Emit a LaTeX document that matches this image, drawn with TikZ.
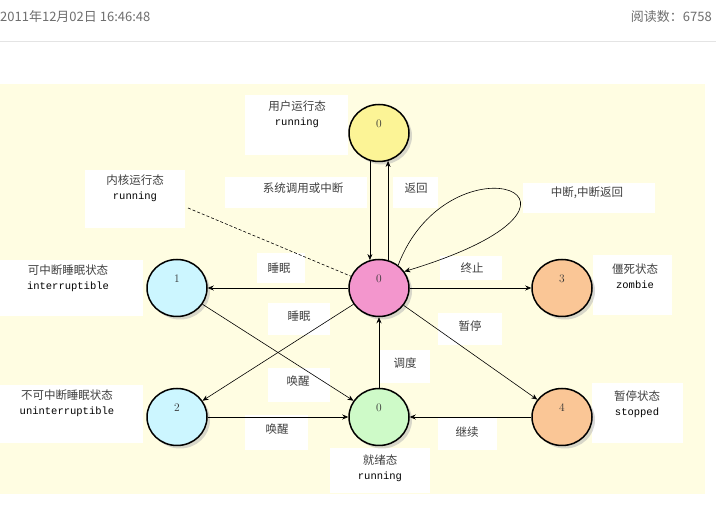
\documentclass[tikz,border=0pt]{standalone}
\usepackage{fontspec}
\usepackage{tikz}
\usetikzlibrary{arrows.meta, calc, shapes.geometric, shadows, positioning}
\newfontfamily\cjk{Noto Sans CJK SC}
\newfontfamily\mono{Liberation Mono}
\definecolor{bgyellow}{RGB}{255,253,226}
\definecolor{headgray}{RGB}{110,110,110}
\definecolor{rulegray}{RGB}{228,228,228}
\definecolor{stuser}{RGB}{252,244,150}
\definecolor{stkern}{RGB}{243,150,205}
\definecolor{stsleep}{RGB}{204,246,255}
\definecolor{stready}{RGB}{206,250,200}
\definecolor{stdead}{RGB}{250,198,150}

\begin{document}
\begin{tikzpicture}[x=1pt, y=-1pt,
    every node/.style={inner sep=0pt},
    state/.style={ellipse, draw, line width=1.5pt, minimum width=60pt, minimum height=57pt,
      drop shadow={shadow xshift=3pt, shadow yshift=-3pt, fill=black!30}},
    num/.style={font=\fontsize{11.5}{13}\selectfont, text=black!80, yshift=9pt},
    tag/.style={font=\cjk\fontsize{11.5}{15}\selectfont, text=black!75, align=center},
    head/.style={font=\cjk\fontsize{13}{15}\selectfont, text=headgray},
    edge/.style={-{Stealth[length=6pt,width=5pt]}, line width=0.6pt}]
    \useasboundingbox (0,0) rectangle (721,518);
    \fill[white] (0,0) rectangle (721,518);

    \node[head, anchor=west] (date) at (0,17) {2011年12月02日 16:46:48};
    \node[head, anchor=east] (reads) at (712,17) {阅读数：6758};
    \draw[rulegray, line width=1pt] (0,42) -- (716,42);

    \fill[bgyellow] (0,84) rectangle (705,494);

    \fill[white] (245,95) rectangle (348,155);
    \fill[white] (225,177) rectangle (367,208);
    \fill[white] (393,177) rectangle (438,208);
    \fill[white] (85,170) rectangle (185,228);
    \fill[white] (523,183) rectangle (655,213);
    \fill[white] (440,256) rectangle (502,280);
    \fill[white] (593,255) rectangle (672,315);
    \fill[white] (592,383) rectangle (683,443);
    \fill[white] (0,260) rectangle (143,316);
    \fill[white] (0,385) rectangle (143,443);
    \fill[white] (257,253) rectangle (305,283);
    \fill[white] (268,303) rectangle (330,335);
    \fill[white] (438,313) rectangle (502,345);
    \fill[white] (380,350) rectangle (430,383);
    \fill[white] (268,368) rectangle (330,402);
    \fill[white] (245,415) rectangle (308,450);
    \fill[white] (438,417) rectangle (497,450);
    \fill[white] (330,448) rectangle (430,493);

    \node[tag] (usertxt) at (297,114) {用户运行态\\{\mono\fontsize{10.5}{15}\selectfont\color{black} running}};
    \node[tag] (kerntxt) at (135,188) {内核运行态\\{\mono\fontsize{10.5}{15}\selectfont\color{black} running}};
    \node[tag] (inttxt) at (68,278) {可中断睡眠状态\\{\mono\fontsize{10.5}{15}\selectfont\color{black} interruptible}};
    \node[tag] (uninttxt) at (67,403) {不可中断睡眠状态\\{\mono\fontsize{10.5}{15}\selectfont\color{black} uninterruptible}};
    \node[tag] (zombtxt) at (635,276) {僵死状态\\{\mono\fontsize{10.5}{15}\selectfont\color{black} zombie}};
    \node[tag] (stoptxt) at (637,404) {暂停状态\\{\mono\fontsize{10.5}{15}\selectfont\color{black} stopped}};
    \node[tag] (readytxt) at (380,468) {就绪态\\{\mono\fontsize{10.5}{15}\selectfont\color{black} running}};

    \node[tag] (calltxt) at (303,188) {系统调用或中断};
    \node[tag] (rettxt) at (416,188) {返回};
    \node[tag] (irqtxt) at (587,193) {中断,中断返回};
    \node[tag] (exittxt) at (472,268) {终止};
    \node[tag] (sleeptxta) at (279,268) {睡眠};
    \node[tag] (sleeptxtb) at (299,316) {睡眠};
    \node[tag] (pausetxt) at (470,326) {暂停};
    \node[tag] (schedtxt) at (405,363) {调度};
    \node[tag] (waketxta) at (298,381) {唤醒};
    \node[tag] (waketxtb) at (277,429) {唤醒};
    \node[tag] (conttxt) at (467,432) {继续};

    \node[state, fill=stuser, label={[num]center:0}] (user) at (379,133) {};
    \node[state, fill=stkern, label={[num]center:0}] (kern) at (379,288) {};
    \node[state, fill=stsleep, label={[num]center:1}] (int) at (177,288) {};
    \node[state, fill=stsleep, label={[num]center:2}] (unint) at (177,417) {};
    \node[state, fill=stready, label={[num]center:0}] (ready) at (379,417) {};
    \node[state, fill=stdead, label={[num]center:3}] (zomb) at (562,288) {};
    \node[state, fill=stdead, label={[num]center:4}] (stop) at (562,417) {};

    \coordinate (kt) at (188,208);
    \draw[line width=0.6pt, dash pattern=on 3pt off 2pt] (kt) -- (kern);

    \draw[edge] (user.-108) -- (kern.108);
    \draw[edge] (kern.72) -- (user.-72);
    \draw[edge] (kern.50) .. controls (450,130) and (640,200) .. (kern.33);
    \draw[edge] (kern) -- (int);
    \draw[edge] (kern) -- (unint);
    \draw[edge] (kern) -- (zomb);
    \draw[edge] (kern) -- (stop);
    \draw[edge] (int) -- (ready);
    \draw[edge] (unint) -- (ready);
    \draw[edge] (ready) -- (kern);
    \draw[edge] (stop) -- (ready);
\end{tikzpicture}
\end{document}
